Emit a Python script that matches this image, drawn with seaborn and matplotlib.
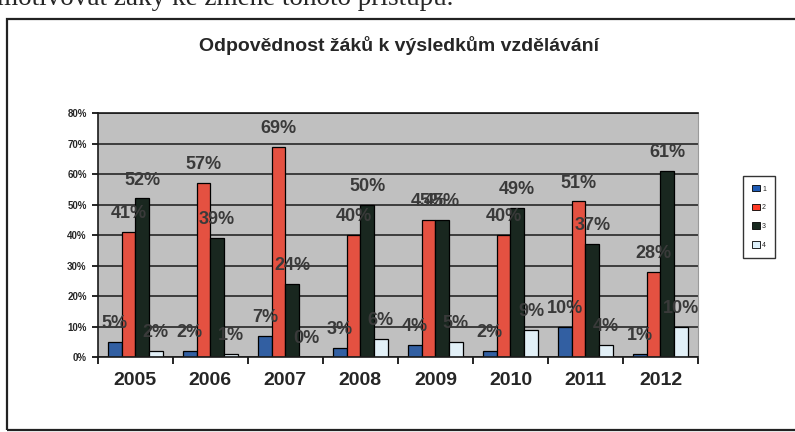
import pandas as pd
import matplotlib
matplotlib.use('Agg')
import matplotlib.pyplot as plt
from matplotlib.patches import Rectangle
from matplotlib.ticker import FixedLocator, PercentFormatter
import seaborn as sns

# values (in %)
years = ['2005', '2006', '2007', '2008', '2009', '2010', '2011', '2012']
series_names = ['1', '2', '3', '4']
s1 = [5, 2, 7, 3, 4, 2, 10, 1]
s2 = [41, 57, 69, 40, 45, 40, 51, 28]
s3 = [52, 39, 24, 50, 45, 49, 37, 61]
s4 = [2, 1, 0, 6, 5, 9, 4, 10]
colors = ['#1f5bb5', '#ff3b26', '#17291f', '#def1fb']

rows = []
for name, vals in zip(series_names, [s1, s2, s3, s4]):
    for y, v in zip(years, vals):
        rows.append({'rok': y, 'skupina': name, 'podil': v / 100})
df = pd.DataFrame(rows)

sns.set_style('white')
plt.rcParams['font.family'] = ['Liberation Sans', 'DejaVu Sans']

fig = plt.figure(figsize=(7.95, 4.32), dpi=100)
ax = fig.add_axes([0.123, 0.1736, 0.755, 0.5648])

sns.barplot(data=df, x='rok', y='podil', hue='skupina', palette=colors,
            width=0.73, edgecolor='black', linewidth=0.9, ax=ax, legend=False)

ax.set_facecolor('#c0c0c0')
ax.set_ylim(0, 0.8)
ax.set_xlim(-0.5, 7.5)
ax.yaxis.set_major_locator(FixedLocator([i / 10 for i in range(9)]))
ax.yaxis.set_major_formatter(PercentFormatter(1.0, decimals=0))
ax.grid(axis='y', color='#1a1a1a', linewidth=1.1)
ax.set_axisbelow(True)
ax.set_xlabel('')
ax.set_ylabel('')

# data labels above every bar
for cont, vals in zip(ax.containers, [s1, s2, s3, s4]):
    ax.bar_label(cont, labels=[f'{v}%' for v in vals], padding=7,
                 fontsize=13, fontweight='bold', color='#3a3a3a')

# excel style ticks between categories
ax.set_xticks(range(len(years)))
ax.set_xticklabels(years, fontsize=14, fontweight='bold')
ax.set_xticks([i - 0.5 for i in range(len(years) + 1)], minor=True)
ax.tick_params(axis='x', which='major', length=0, pad=11)
ax.tick_params(axis='x', which='minor', length=5, width=1.2, direction='out',
               color='black', bottom=True)
ax.tick_params(axis='y', length=4, width=1.2, direction='out', color='black',
               left=True, labelsize=7, pad=4)
for lab in ax.get_yticklabels():
    lab.set_fontweight('bold')

for side in ['left', 'bottom', 'top']:
    ax.spines[side].set_color('#1a1a1a')
    ax.spines[side].set_linewidth(1.2)
ax.spines['right'].set_color('#9a9a9a')

fig.text(0.502, 0.894, 'Odpovědnost žáků k výsledkům vzdělávání', ha='center',
         va='center', fontsize=14, fontweight='bold')

# legend box on the right
handles = [Rectangle((0, 0), 1, 1, facecolor=c, edgecolor='black', linewidth=0.6)
           for c in colors]
leg = fig.legend(handles, series_names, loc='center', bbox_to_anchor=(0.955, 0.498),
                 fontsize=5, frameon=True, fancybox=False, edgecolor='black',
                 handlelength=1.1, handleheight=1.1, labelspacing=1.6,
                 borderpad=1.3, handletextpad=0.3)
leg.get_frame().set_linewidth(1.0)

# outer chart frame and the cut text line of the scanned page
fig.add_artist(Rectangle((7 / 795, 2 / 432), 1.2, 411 / 432, transform=fig.transFigure,
                         fill=False, edgecolor='#222222', linewidth=1.6))
fig.text(-0.004, 1 - 5 / 432, 'motivovat žáky ke změně tohoto přístupu.',
         ha='left', va='baseline', fontsize=19.5, family='Liberation Serif')

fig.savefig('out.png', dpi=100)
